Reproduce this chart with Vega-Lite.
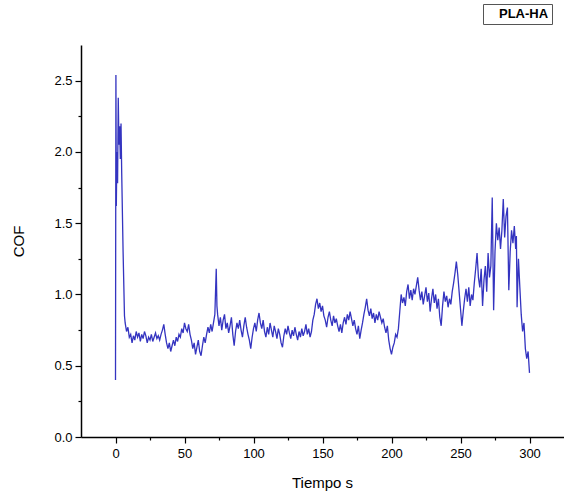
{
  "$schema": "https://vega.github.io/schema/vega-lite/v6.json",
  "autosize": {"type": "none"},
  "padding": {"left": 81, "top": 45, "right": 0, "bottom": 59},
  "width": 483,
  "height": 392,
  "background": "white",
  "config": {
    "view": {"stroke": null},
    "axis": {
      "domainColor": "black", "domainWidth": 1.5, "tickColor": "black", "tickWidth": 1.2,
      "labelColor": "black", "labelFont": "Liberation Sans", "labelFontSize": 13,
      "titleColor": "black", "titleFont": "Liberation Sans", "titleFontSize": 15, "titleFontWeight": "normal",
      "grid": false, "labelOverlap": false, "labelFlush": false
    }
  },
  "data": {"values": [
    {"t":0,"cof":0.40},{"t":0.3,"cof":2.54},{"t":0.6,"cof":1.62},{"t":1,"cof":2.0},{"t":1.5,"cof":1.78},{"t":2,"cof":2.38},{"t":2.5,"cof":2.05},{"t":3,"cof":2.18},{"t":3.5,"cof":1.95},{"t":4,"cof":2.2},{"t":4.5,"cof":1.85},{"t":5.5,"cof":1.3},{"t":6.5,"cof":0.85},
    {"t":7,"cof":0.80},{"t":8,"cof":0.74},{"t":9,"cof":0.77},{"t":10,"cof":0.70},{"t":11,"cof":0.72},{"t":12,"cof":0.66},{"t":13,"cof":0.71},{"t":14,"cof":0.68},{"t":15,"cof":0.74},{"t":16,"cof":0.70},{"t":17,"cof":0.73},{"t":18,"cof":0.67},{"t":19,"cof":0.72},{"t":20,"cof":0.69},
    {"t":21,"cof":0.74},{"t":22,"cof":0.71},{"t":23,"cof":0.66},{"t":24,"cof":0.70},{"t":25,"cof":0.68},{"t":26,"cof":0.72},{"t":27,"cof":0.67},{"t":28,"cof":0.70},{"t":29,"cof":0.73},{"t":30,"cof":0.69},
    {"t":31,"cof":0.71},{"t":32,"cof":0.68},{"t":33,"cof":0.72},{"t":34,"cof":0.75},{"t":35,"cof":0.79},{"t":36,"cof":0.72},{"t":37,"cof":0.66},{"t":38,"cof":0.62},{"t":39,"cof":0.66},{"t":40,"cof":0.60},
    {"t":41,"cof":0.64},{"t":42,"cof":0.68},{"t":43,"cof":0.64},{"t":44,"cof":0.70},{"t":45,"cof":0.67},{"t":46,"cof":0.72},{"t":47,"cof":0.70},{"t":48,"cof":0.76},{"t":49,"cof":0.73},{"t":50,"cof":0.80},
    {"t":51,"cof":0.76},{"t":52,"cof":0.74},{"t":53,"cof":0.79},{"t":54,"cof":0.72},{"t":55,"cof":0.68},{"t":56,"cof":0.62},{"t":57,"cof":0.66},{"t":58,"cof":0.58},{"t":59,"cof":0.63},{"t":60,"cof":0.68},
    {"t":61,"cof":0.60},{"t":62,"cof":0.57},{"t":63,"cof":0.64},{"t":64,"cof":0.70},{"t":65,"cof":0.66},{"t":66,"cof":0.72},{"t":67,"cof":0.77},{"t":68,"cof":0.73},{"t":69,"cof":0.79},{"t":70,"cof":0.74},
    {"t":71,"cof":0.80},{"t":72,"cof":0.86},{"t":73,"cof":1.18},{"t":73.5,"cof":0.92},{"t":74,"cof":0.86},{"t":75,"cof":0.78},{"t":76,"cof":0.84},{"t":77,"cof":0.75},{"t":78,"cof":0.82},{"t":79,"cof":0.86},{"t":80,"cof":0.76},
    {"t":81,"cof":0.80},{"t":82,"cof":0.73},{"t":83,"cof":0.78},{"t":84,"cof":0.84},{"t":85,"cof":0.72},{"t":86,"cof":0.64},{"t":87,"cof":0.74},{"t":88,"cof":0.80},{"t":89,"cof":0.76},{"t":90,"cof":0.82},
    {"t":91,"cof":0.75},{"t":92,"cof":0.70},{"t":93,"cof":0.78},{"t":94,"cof":0.84},{"t":95,"cof":0.77},{"t":96,"cof":0.72},{"t":97,"cof":0.68},{"t":98,"cof":0.62},{"t":99,"cof":0.70},{"t":100,"cof":0.76},
    {"t":101,"cof":0.80},{"t":102,"cof":0.74},{"t":103,"cof":0.82},{"t":104,"cof":0.87},{"t":105,"cof":0.80},{"t":106,"cof":0.76},{"t":107,"cof":0.82},{"t":108,"cof":0.74},{"t":109,"cof":0.70},{"t":110,"cof":0.77},
    {"t":111,"cof":0.72},{"t":112,"cof":0.80},{"t":113,"cof":0.75},{"t":114,"cof":0.70},{"t":115,"cof":0.78},{"t":116,"cof":0.74},{"t":117,"cof":0.69},{"t":118,"cof":0.76},{"t":119,"cof":0.72},{"t":120,"cof":0.66},
    {"t":121,"cof":0.63},{"t":122,"cof":0.71},{"t":123,"cof":0.76},{"t":124,"cof":0.72},{"t":125,"cof":0.78},{"t":126,"cof":0.73},{"t":127,"cof":0.69},{"t":128,"cof":0.75},{"t":129,"cof":0.71},{"t":130,"cof":0.77},
    {"t":131,"cof":0.72},{"t":132,"cof":0.68},{"t":133,"cof":0.74},{"t":134,"cof":0.70},{"t":135,"cof":0.76},{"t":136,"cof":0.71},{"t":137,"cof":0.74},{"t":138,"cof":0.79},{"t":139,"cof":0.72},{"t":140,"cof":0.76},
    {"t":141,"cof":0.70},{"t":142,"cof":0.74},{"t":143,"cof":0.82},{"t":144,"cof":0.86},{"t":145,"cof":0.93},{"t":146,"cof":0.97},{"t":147,"cof":0.90},{"t":148,"cof":0.94},{"t":149,"cof":0.88},{"t":150,"cof":0.92},
    {"t":151,"cof":0.85},{"t":152,"cof":0.82},{"t":153,"cof":0.77},{"t":154,"cof":0.84},{"t":155,"cof":0.88},{"t":156,"cof":0.82},{"t":157,"cof":0.78},{"t":158,"cof":0.85},{"t":159,"cof":0.80},{"t":160,"cof":0.83},
    {"t":161,"cof":0.78},{"t":162,"cof":0.74},{"t":163,"cof":0.79},{"t":164,"cof":0.73},{"t":165,"cof":0.80},{"t":166,"cof":0.84},{"t":167,"cof":0.79},{"t":168,"cof":0.86},{"t":169,"cof":0.82},{"t":170,"cof":0.88},
    {"t":171,"cof":0.83},{"t":172,"cof":0.78},{"t":173,"cof":0.82},{"t":174,"cof":0.76},{"t":175,"cof":0.72},{"t":176,"cof":0.78},{"t":177,"cof":0.69},{"t":178,"cof":0.75},{"t":179,"cof":0.80},{"t":180,"cof":0.86},
    {"t":181,"cof":0.91},{"t":182,"cof":0.97},{"t":183,"cof":0.89},{"t":184,"cof":0.85},{"t":185,"cof":0.90},{"t":186,"cof":0.83},{"t":187,"cof":0.87},{"t":188,"cof":0.80},{"t":189,"cof":0.86},{"t":190,"cof":0.82},
    {"t":191,"cof":0.88},{"t":192,"cof":0.84},{"t":193,"cof":0.80},{"t":194,"cof":0.83},{"t":195,"cof":0.77},{"t":196,"cof":0.73},{"t":197,"cof":0.78},{"t":198,"cof":0.68},{"t":199,"cof":0.62},{"t":200,"cof":0.58},
    {"t":201,"cof":0.63},{"t":202,"cof":0.66},{"t":203,"cof":0.72},{"t":204,"cof":0.70},{"t":205,"cof":0.76},{"t":206,"cof":0.88},{"t":207,"cof":1.00},{"t":208,"cof":0.94},{"t":209,"cof":0.98},{"t":210,"cof":0.92},
    {"t":211,"cof":1.02},{"t":212,"cof":1.07},{"t":213,"cof":0.97},{"t":214,"cof":1.03},{"t":215,"cof":0.96},{"t":216,"cof":1.04},{"t":217,"cof":1.00},{"t":218,"cof":1.06},{"t":219,"cof":1.12},{"t":220,"cof":1.03},
    {"t":221,"cof":0.96},{"t":222,"cof":1.02},{"t":223,"cof":0.93},{"t":224,"cof":0.99},{"t":225,"cof":1.05},{"t":226,"cof":0.95},{"t":227,"cof":1.01},{"t":228,"cof":0.88},{"t":229,"cof":0.97},{"t":230,"cof":1.04},
    {"t":231,"cof":0.94},{"t":232,"cof":1.00},{"t":233,"cof":0.90},{"t":234,"cof":0.97},{"t":235,"cof":0.84},{"t":236,"cof":0.78},{"t":237,"cof":0.92},{"t":238,"cof":1.02},{"t":239,"cof":0.95},{"t":240,"cof":0.99},
    {"t":241,"cof":0.91},{"t":242,"cof":0.97},{"t":243,"cof":0.93},{"t":244,"cof":1.02},{"t":245,"cof":1.08},{"t":246,"cof":1.15},{"t":247,"cof":1.23},{"t":248,"cof":1.14},{"t":249,"cof":1.02},{"t":250,"cof":0.90},
    {"t":251,"cof":0.78},{"t":252,"cof":0.88},{"t":253,"cof":0.97},{"t":254,"cof":1.04},{"t":255,"cof":0.95},{"t":256,"cof":1.05},{"t":257,"cof":0.92},{"t":258,"cof":1.00},{"t":259,"cof":0.96},{"t":260,"cof":1.08},
    {"t":261,"cof":1.18},{"t":262,"cof":1.29},{"t":263,"cof":1.12},{"t":264,"cof":1.05},{"t":265,"cof":1.18},{"t":266,"cof":0.92},{"t":267,"cof":1.10},{"t":268,"cof":1.20},{"t":269,"cof":1.02},{"t":270,"cof":1.29},
    {"t":271,"cof":1.12},{"t":272,"cof":1.20},{"t":273,"cof":1.68},{"t":274,"cof":0.89},{"t":275,"cof":1.30},{"t":276,"cof":1.50},{"t":277,"cof":1.38},{"t":278,"cof":1.47},{"t":279,"cof":1.32},{"t":280,"cof":1.45},
    {"t":281,"cof":1.67},{"t":282,"cof":1.40},{"t":283,"cof":1.55},{"t":284,"cof":1.61},{"t":285,"cof":1.03},{"t":286,"cof":1.30},{"t":287,"cof":1.45},{"t":288,"cof":1.36},{"t":289,"cof":1.48},{"t":290,"cof":1.32},
    {"t":290.5,"cof":1.41},{"t":291,"cof":0.91},{"t":292,"cof":1.25},{"t":293,"cof":1.05},{"t":294,"cof":0.86},{"t":295,"cof":0.74},{"t":296,"cof":0.80},{"t":297,"cof":0.62},{"t":298,"cof":0.55},{"t":299,"cof":0.60},{"t":300,"cof":0.45}
  ]},
  "transform": [{"calculate": "'PLA-HA'", "as": "s"}],
  "mark": {"type": "line", "strokeWidth": 1.3, "clip": true},
  "encoding": {
    "x": {
      "field": "t", "type": "quantitative",
      "scale": {"domain": [-25, 325], "nice": false, "zero": false},
      "axis": {
        "title": "Tiempo s",
        "values": [0, 25, 50, 75, 100, 125, 150, 175, 200, 225, 250, 275, 300],
        "labelExpr": "datum.value % 50 === 0 ? datum.label : ''",
        "tickSize": {"condition": {"test": "datum.value % 50 !== 0", "value": 3}, "value": 6},
        "labelPadding": 4,
        "titleX": 241, "titleY": 45, "titleBaseline": "middle"
      }
    },
    "y": {
      "field": "cof", "type": "quantitative",
      "scale": {"domain": [0, 2.75], "nice": false},
      "axis": {
        "title": "COF",
        "values": [0, 0.25, 0.5, 0.75, 1, 1.25, 1.5, 1.75, 2, 2.25, 2.5],
        "labelExpr": "abs(datum.value * 2 - round(datum.value * 2)) < 0.001 ? format(datum.value, '.1f') : ''",
        "tickSize": {"condition": {"test": "abs(datum.value * 2 - round(datum.value * 2)) > 0.001", "value": 3}, "value": 6},
        "labelPadding": 3,
        "titleX": -63, "titleY": 196, "titleAngle": -90, "titleBaseline": "middle", "titleAlign": "center"
      }
    },
    "color": {
      "field": "s", "type": "nominal",
      "scale": {"range": ["#3434c0"]},
      "legend": {
        "title": null, "orient": "none", "legendX": 402, "legendY": -41,
        "symbolSize": 0, "symbolStrokeWidth": 0, "symbolOpacity": 0, "labelOffset": 0,
        "labelFont": "Liberation Sans", "labelFontSize": 13, "labelFontWeight": "bold", "labelColor": "black",
        "strokeColor": "#555", "fillColor": "white", "padding": 3, "cornerRadius": 0
      }
    }
  }
}
